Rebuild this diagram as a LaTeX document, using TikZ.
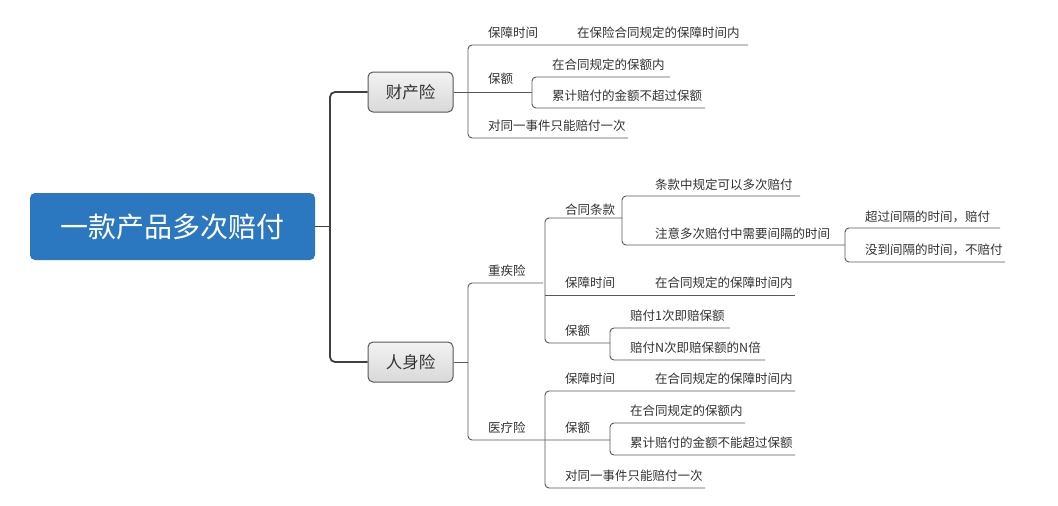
\documentclass[tikz,border=0pt]{standalone}
\usepackage{fontspec}
\setmainfont{Noto Sans CJK SC}
\begin{document}
\begin{tikzpicture}[x=1pt,y=-1pt,
  lbl/.style={anchor=base west,inner sep=0pt,font=\fontsize{12.5}{13}\selectfont,text=black!80},
  ln/.style={draw=black!65,line width=0.9pt,rounded corners=4pt},
  trunk/.style={draw=black!75,line width=1.8pt,rounded corners=5pt},
  catbox/.style={draw=black!65,line width=1pt,rounded corners=5pt,top color=black!5,bottom color=black!15,minimum width=85pt,minimum height=40pt,font=\fontsize{16.5}{18}\selectfont,text=black!80}]
\useasboundingbox (0,0) rectangle (1058,506);
\fill[white] (0,0) rectangle (1058,506);
% main
\node[fill={rgb,255:red,43;green,120;blue,192},rounded corners=5pt,minimum width=285pt,minimum height=67pt,text=white,font=\fontsize{28}{30}\selectfont] (main) at (172.5,226.5) {一款产品多次赔付};
\node[catbox] (cc) at (410.5,92) {财产险};
\node[catbox] (rs) at (410.5,362) {人身险};
\draw[trunk] (main.east) -- (330,226.5);
\draw[trunk] (cc.west) -- (330,92) -- (330,362) -- (rs.west);
% 财产险 branch
\draw[ln] (748,45) -- (468,45) -- (468,138) -- (628,138);
\draw[ln] (cc.east) -- (532,92);
\draw[ln] (670,77) -- (532,77) -- (532,108) -- (705,108);
\node[lbl] (a1) at (488,37) {保障时间};
\node[lbl] (a1c) at (577,37) {在保险合同规定的保障时间内};
\node[lbl] (a2) at (488,83) {保额};
\node[lbl] (a2c1) at (552,69) {在合同规定的保额内};
\node[lbl] (a2c2) at (552,100) {累计赔付的金额不超过保额};
\node[lbl] (a3) at (488,130) {对同一事件只能赔付一次};
% 人身险 branch
\draw[ln] (543,283) -- (468,283) -- (468,440) -- (610,440);
\draw[ln] (rs.east) -- (468,362);
\node[lbl] (b1) at (488,275) {重疾险};
\node[lbl] (b2) at (488,432) {医疗险};
% 重疾险
\draw[ln] (622,218) -- (545,218) -- (545,343) -- (610,343);
\draw[ln] (545,295) -- (795,295);
\node[lbl] (c1) at (565,214) {合同条款};
\draw[ln] (800,196) -- (622,196) -- (622,245) -- (845,245);
\node[lbl] (c1a) at (655,189) {条款中规定可以多次赔付};
\node[lbl] (c1b) at (655,238) {注意多次赔付中需要间隔的时间};
\draw[ln] (1000,228) -- (845,228) -- (845,262) -- (1005,262);
\node[lbl] (c1b1) at (865,221) {超过间隔的时间，赔付};
\node[lbl] (c1b2) at (865,254) {没到间隔的时间，不赔付};
\node[lbl] (c2) at (565,287) {保障时间};
\node[lbl] (c2a) at (655,287) {在合同规定的保障时间内};
\node[lbl] (c3) at (565,335) {保额};
\draw[ln] (730,328) -- (610,328) -- (610,360) -- (765,360);
\node[lbl] (c3a) at (630,320) {赔付1次即赔保额};
\node[lbl] (c3b) at (630,352) {赔付N次即赔保额的N倍};
% 医疗险
\draw[ln] (795,391) -- (545,391) -- (545,488) -- (705,488);
\node[lbl] (d1) at (565,383) {保障时间};
\node[lbl] (d1a) at (655,383) {在合同规定的保障时间内};
\node[lbl] (d2) at (565,432) {保额};
\draw[ln] (745,423) -- (610,423) -- (610,455) -- (795,455);
\node[lbl] (d2a) at (630,415) {在合同规定的保额内};
\node[lbl] (d2b) at (630,447) {累计赔付的金额不能超过保额};
\node[lbl] (d3) at (565,480) {对同一事件只能赔付一次};
\end{tikzpicture}
\end{document}
